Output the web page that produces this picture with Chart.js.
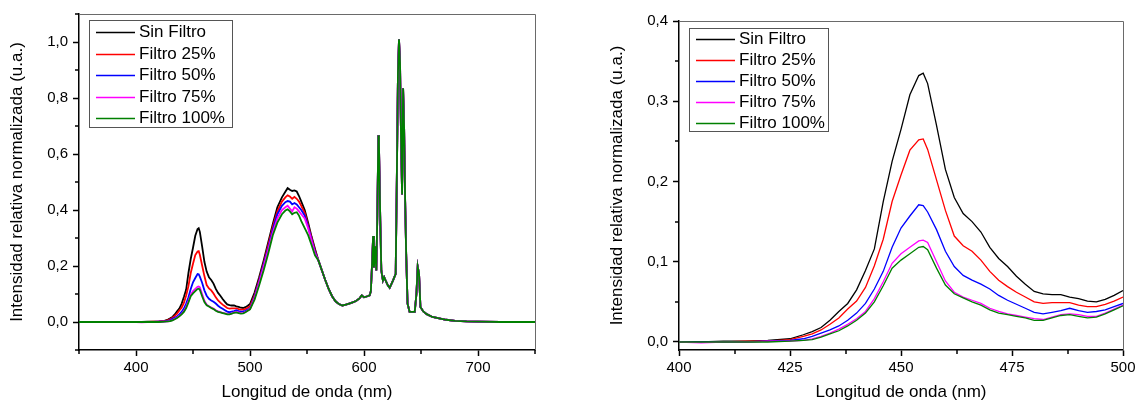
<!DOCTYPE html>
<html>
<head>
<meta charset="utf-8">
<script src="https://cdn.jsdelivr.net/npm/chart.js@4.4.1/dist/chart.umd.min.js"></script>
<style>
  body { margin: 0; background: #fff; }
  #left { position: absolute; left: 0; top: 0; }
  #right { position: absolute; left: 600px; top: 0; }
</style>
</head>
<body>
<canvas id="left" width="570" height="405"></canvas>
<canvas id="right" width="541" height="405"></canvas>
<script>
// series names and colours
const seriesNames = ['Sin Filtro', 'Filtro 25%', 'Filtro 50%', 'Filtro 75%', 'Filtro 100%'];
const seriesColors = ['#000000', '#ff0000', '#0000ff', '#ff00ff', '#008000'];

// blue band, 400-500 nm (also used by the right chart)
const blueWl = [400, 405, 410, 415, 420, 425, 428, 430, 432, 434, 436, 438, 440, 442, 444, 446, 448, 450, 452, 454, 455,
  456, 458, 460, 462, 464, 466, 468, 470, 472, 474, 476, 478, 480, 482, 484, 486, 488, 490, 492, 494, 496, 498, 500];
const blueSin = [0.000, 0.000, 0.001, 0.001, 0.002, 0.004, 0.009, 0.013, 0.018, 0.027, 0.038, 0.048, 0.065, 0.089, 0.116, 0.175, 0.225, 0.265, 0.308, 0.332, 0.335,
  0.322, 0.270, 0.215, 0.180, 0.160, 0.150, 0.137, 0.118, 0.104, 0.094, 0.082, 0.072, 0.063, 0.060, 0.059, 0.059, 0.056, 0.054, 0.051, 0.050, 0.053, 0.058, 0.064];
const blue25 = [0.000, 0.000, 0.000, 0.001, 0.001, 0.003, 0.007, 0.010, 0.015, 0.022, 0.030, 0.041, 0.051, 0.068, 0.095, 0.128, 0.175, 0.208, 0.239, 0.252, 0.253,
  0.240, 0.202, 0.164, 0.132, 0.120, 0.113, 0.102, 0.088, 0.077, 0.069, 0.062, 0.056, 0.050, 0.048, 0.049, 0.049, 0.049, 0.046, 0.044, 0.044, 0.047, 0.051, 0.056];
const blue50 = [0.000, 0.000, 0.000, 0.000, 0.001, 0.002, 0.004, 0.007, 0.011, 0.015, 0.020, 0.027, 0.036, 0.048, 0.066, 0.088, 0.118, 0.142, 0.157, 0.171, 0.170,
  0.162, 0.140, 0.113, 0.094, 0.083, 0.077, 0.072, 0.066, 0.058, 0.052, 0.047, 0.042, 0.037, 0.035, 0.037, 0.039, 0.042, 0.039, 0.037, 0.038, 0.040, 0.044, 0.048];
const blue75 = [0.000, -0.001, 0.000, 0.000, 0.001, 0.001, 0.002, 0.004, 0.007, 0.011, 0.016, 0.022, 0.029, 0.038, 0.054, 0.075, 0.098, 0.110, 0.118, 0.126, 0.127,
  0.124, 0.100, 0.076, 0.062, 0.056, 0.052, 0.048, 0.042, 0.038, 0.035, 0.033, 0.031, 0.029, 0.028, 0.031, 0.034, 0.035, 0.034, 0.032, 0.032, 0.036, 0.041, 0.046];
const blue100 = [0.000, 0.000, 0.000, 0.000, 0.000, 0.001, 0.002, 0.003, 0.006, 0.010, 0.014, 0.020, 0.027, 0.036, 0.050, 0.070, 0.092, 0.102, 0.110, 0.118, 0.119,
  0.115, 0.092, 0.071, 0.060, 0.055, 0.050, 0.046, 0.040, 0.036, 0.034, 0.032, 0.030, 0.027, 0.027, 0.030, 0.033, 0.034, 0.032, 0.030, 0.031, 0.035, 0.040, 0.045];

// green band, 504-557 nm
const broadWl = [504, 508, 512, 516, 520, 524, 528, 531, 533, 535, 537, 539, 541, 543, 545, 548, 551, 554, 557];
const broadSin = [0.105, 0.160, 0.220, 0.285, 0.350, 0.410, 0.445, 0.465, 0.478, 0.472, 0.468, 0.470, 0.466, 0.450, 0.430, 0.400, 0.355, 0.305, 0.262];
const broad25 = [0.095, 0.150, 0.210, 0.275, 0.340, 0.395, 0.430, 0.445, 0.452, 0.448, 0.440, 0.447, 0.440, 0.430, 0.415, 0.390, 0.345, 0.300, 0.255];
const broad50 = [0.090, 0.145, 0.205, 0.265, 0.330, 0.385, 0.415, 0.428, 0.432, 0.430, 0.420, 0.425, 0.420, 0.410, 0.400, 0.380, 0.340, 0.295, 0.250];
const broad75 = [0.085, 0.140, 0.198, 0.258, 0.320, 0.370, 0.400, 0.410, 0.415, 0.405, 0.395, 0.410, 0.405, 0.395, 0.385, 0.370, 0.335, 0.290, 0.245];
const broad100 = [0.080, 0.130, 0.185, 0.245, 0.310, 0.355, 0.385, 0.398, 0.402, 0.395, 0.385, 0.390, 0.392, 0.380, 0.360, 0.335, 0.310, 0.275, 0.238];

// red lines, 560-750 nm (all five curves overlap here)
const tailWl = [560, 563, 566, 569, 572, 575, 578, 581, 584, 587, 590, 593, 596, 598, 600, 603, 605, 606, 607, 608,
  608.7, 609.9, 610.8, 611.7, 612.6, 613.1, 614.3, 615.2, 616.6, 617.7, 619.6, 621, 622.5, 624, 625.4, 627.8, 628.9, 629.8, 630.7, 631.6,
  632.5, 633.4, 634.3, 635.2, 636.1, 637, 638.2, 640, 644.5, 646, 647.1, 648.3, 649.5, 652, 655, 660, 667, 672, 680, 690, 700, 720, 750];
const tailVal = [0.220, 0.185, 0.150, 0.118, 0.092, 0.074, 0.064, 0.059, 0.062, 0.066, 0.070, 0.075, 0.084, 0.095, 0.088, 0.092, 0.095, 0.110, 0.200, 0.307,
  0.195, 0.270, 0.184, 0.384, 0.667, 0.640, 0.360, 0.184, 0.148, 0.160, 0.142, 0.130, 0.122, 0.135, 0.148, 0.172, 0.549, 0.890, 1.010, 0.926,
  0.655, 0.455, 0.835, 0.690, 0.431, 0.243, 0.066, 0.036, 0.036, 0.101, 0.198, 0.172, 0.054, 0.038, 0.028, 0.018, 0.012, 0.008, 0.004, 0.002, 0.001, 0.000, 0.000];

// UV start, flat
const startWl = [350, 375];
const startVal = [0.000, 0.000];

// ticks
const leftXTicks = [400, 500, 600, 700];
const leftXMinor = [350, 450, 550, 650, 750];
const leftYTicks = [0, 0.2, 0.4, 0.6, 0.8, 1.0];
const leftYMinor = [-0.1, 0.1, 0.3, 0.5, 0.7, 0.9, 1.1];
const rightXTicks = [400, 425, 450, 475, 500];
const rightXMinor = [412.5, 437.5, 462.5, 487.5];
const rightYTicks = [0, 0.1, 0.2, 0.3, 0.4];
const rightYMinor = [0.05, 0.15, 0.25, 0.35];

const FONT = '"Liberation Sans", Arial, sans-serif';
const blueSets = [blueSin, blue25, blue50, blue75, blue100];
const broadSets = [broadSin, broad25, broad50, broad75, broad100];

function pts(wl, vals) {
  return wl.map((x, i) => ({ x: x, y: vals[i] }));
}

const frame = {
  id: 'frame',
  afterDraw(chart, args, opts) {
    const { ctx, chartArea: a, scales: { x, y } } = chart;
    ctx.save();
    // top and right edges of the box
    ctx.strokeStyle = '#6a6a6a';
    ctx.lineWidth = 1;
    ctx.beginPath();
    ctx.moveTo(a.left, a.top + 0.5);
    ctx.lineTo(a.right + 0.5, a.top + 0.5);
    ctx.lineTo(a.right + 0.5, a.bottom);
    ctx.stroke();
    // minor ticks
    ctx.strokeStyle = '#000';
    ctx.lineWidth = 1.5;
    opts.xMinor.forEach(v => {
      const px = Math.round(x.getPixelForValue(v));
      ctx.beginPath(); ctx.moveTo(px, a.bottom); ctx.lineTo(px, a.bottom + 4); ctx.stroke();
    });
    opts.yMinor.forEach(v => {
      const py = Math.round(y.getPixelForValue(v));
      ctx.beginPath(); ctx.moveTo(a.left, py); ctx.lineTo(a.left - 4, py); ctx.stroke();
    });
    // legend box
    const lg = opts.legend;
    const bx = a.left + lg.dx, by = a.top + lg.dy;
    ctx.fillStyle = '#fff';
    ctx.fillRect(bx, by, lg.w, lg.h);
    ctx.strokeStyle = '#555';
    ctx.lineWidth = 1;
    ctx.strokeRect(bx + 0.5, by + 0.5, lg.w, lg.h);
    ctx.font = '17px ' + FONT;
    ctx.textBaseline = 'middle';
    seriesNames.forEach((name, i) => {
      const cy = Math.round(by + lg.first + i * lg.row) + 0.5;
      ctx.strokeStyle = seriesColors[i];
      ctx.lineWidth = 1.5;
      ctx.beginPath(); ctx.moveTo(bx + 7, cy); ctx.lineTo(bx + 46, cy); ctx.stroke();
      ctx.fillStyle = '#000';
      ctx.fillText(name, bx + 50, cy);
    });
    ctx.restore();
  }
};

function makeChart(id, datasets, cfg) {
  new Chart(document.getElementById(id), {
    type: 'line',
    data: { datasets: datasets },
    plugins: [frame],
    options: {
      responsive: false,
      animation: false,
      layout: { padding: { left: 0, right: cfg.padRight, top: cfg.padTop, bottom: 0 } },
      elements: { point: { radius: 0 }, line: { tension: 0, borderWidth: cfg.lineWidth } },
      plugins: {
        legend: { display: false },
        tooltip: { enabled: false },
        frame: { xMinor: cfg.xMinor, yMinor: cfg.yMinor, legend: cfg.legend }
      },
      scales: {
        x: {
          type: 'linear',
          min: cfg.xMin,
          max: cfg.xMax,
          afterFit: s => { s.height = 55; },
          afterBuildTicks: s => { s.ticks = cfg.xTicks.map(v => ({ value: v })); },
          grid: { drawOnChartArea: false, tickLength: 6, color: '#000', tickWidth: 1.5 },
          border: { color: '#000', width: 1.5 },
          ticks: { autoSkip: false, maxRotation: 0, padding: 3, color: '#000', font: { size: 15, family: FONT },
            callback: v => String(v) },
          title: { display: true, text: 'Longitud de onda (nm)', color: '#000',
            font: { size: 17, family: FONT }, padding: { top: 0, bottom: 2 } }
        },
        y: {
          min: cfg.yMin,
          max: cfg.yMax,
          afterFit: s => { s.width = 79; },
          afterBuildTicks: s => { s.ticks = cfg.yTicks.map(v => ({ value: v })); },
          grid: { drawOnChartArea: false, tickLength: 6, color: '#000', tickWidth: 1.5 },
          border: { color: '#000', width: 1.5 },
          ticks: { autoSkip: false, padding: 5, color: '#000', font: { size: 15, family: FONT },
            callback: v => v.toFixed(1).replace('.', ',') },
          title: { display: true, text: 'Intensidad relativa normalizada (u.a.)', color: '#000',
            font: { size: 17, family: FONT }, padding: { top: 7, bottom: 0 } }
        }
      }
    }
  });
}

// left: full spectrum
const leftSets = seriesNames.map((name, i) => ({
  label: name,
  borderColor: seriesColors[i],
  order: 4 - i,
  data: pts(startWl, startVal).concat(pts(blueWl, blueSets[i]), pts(broadWl, broadSets[i]), pts(tailWl, tailVal))
}));
makeChart('left', leftSets, {
  padRight: 35, padTop: 12, lineWidth: 1.8,
  xMin: 350, xMax: 750, yMin: -0.1, yMax: 1.1,
  xTicks: leftXTicks, yTicks: leftYTicks, xMinor: leftXMinor, yMinor: leftYMinor,
  legend: { dx: 10, dy: 6, w: 143, h: 107, first: 12, row: 21.5 }
});

// right: blue band zoom
const rightSets = seriesNames.map((name, i) => ({
  label: name,
  borderColor: seriesColors[i],
  order: 4 - i,
  data: pts(blueWl, blueSets[i])
}));
makeChart('right', rightSets, {
  padRight: 18, padTop: 21, lineWidth: 1.3,
  xMin: 400, xMax: 500, yMin: -0.01, yMax: 0.4,
  xTicks: rightXTicks, yTicks: rightYTicks, xMinor: rightXMinor, yMinor: rightYMinor,
  legend: { dx: 10, dy: 7, w: 139, h: 103, first: 11, row: 20.9 }
});
</script>
</body>
</html>
